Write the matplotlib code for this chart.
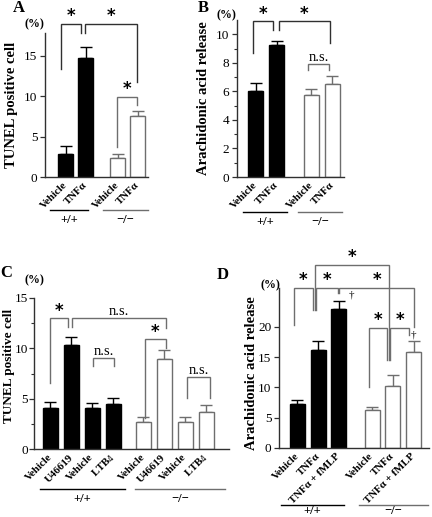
"""Four-panel bar chart: TUNEL positive cells and arachidonic acid release."""

import matplotlib.pyplot as plt
import matplotlib.transforms as mtransforms

W, H = 432, 517
SERIF = ["Liberation Serif", "DejaVu Serif"]
GRAY = "#6e6e6e"
DARK = "#303030"

plt.rcParams["font.family"] = SERIF

# ---- data ----
a_labels = ["Vehicle", "TNFα", "Vehicle", "TNFα"]
a_values = [2.9, 14.7, 2.4, 7.6]
a_errors = [0.9, 1.4, 0.5, 0.5]

b_labels = ["Vehicle", "TNFα", "Vehicle", "TNFα"]
b_values = [6.0, 9.25, 5.75, 6.5]
b_errors = [0.6, 0.3, 0.4, 0.6]

c_labels = ["Vehicle", "U46619", "Vehicle", "LTB$_4$", "Vehicle", "U46619", "Vehicle", "LTB$_4$"]
c_values = [4.1, 10.3, 4.1, 4.5, 2.7, 8.9, 2.7, 3.7]
c_errors = [0.6, 0.8, 0.5, 0.6, 0.5, 0.9, 0.5, 0.7]

d_labels = ["Vehicle", "TNFα", "TNFα + fMLP", "Vehicle", "TNFα", "TNFα + fMLP"]
d_values = [7.3, 16.2, 23.0, 6.3, 10.3, 15.8]
d_errors = [0.7, 1.5, 1.2, 0.4, 1.8, 1.9]

genotypes = ["+/+", "−/−"]


def fig_box(left, top, right, bottom):
    return [left / W, 1 - bottom / H, (right - left) / W, (bottom - top) / H]


def bracket(ax, xl, xr, yl, yr, ytop, text, color=GRAY):
    ax.plot([xl, xl, xr, xr], [yl, ytop, ytop, yr], color=color, lw=1.0,
            clip_on=False, solid_joinstyle="miter")
    xm = (xl + xr) / 2
    if text == "*":
        ax.annotate("*", (xm, ytop), xytext=(0, -1), textcoords="offset points",
                    ha="center", va="bottom", fontsize=12, fontweight="bold",
                    family="DejaVu Sans", annotation_clip=False)
    else:
        ax.annotate(text, (xm, ytop), xytext=(0, 0), textcoords="offset points",
                    ha="center", va="bottom", fontsize=10.5, annotation_clip=False)


def panel(fig, box, x, values, errors, labels, colors, ylim, yticks, xlim,
          ylabel, pct_pos, label_pos, groups, group_off, label_size=10.5, ypad=2):
    ax = fig.add_axes(fig_box(*box))
    for xi, v, e, c in zip(x, values, errors, colors):
        edge = "black" if c == "black" else GRAY
        ax.bar(xi, v, width=0.72, color=c, edgecolor=edge, linewidth=1.0, zorder=2)
        ax.errorbar(xi, v, yerr=[[0], [e]], color=edge, capsize=4, elinewidth=1.0,
                    capthick=1.0, zorder=1)
    ax.set_xlim(*xlim)
    ax.set_ylim(*ylim)
    ax.set_yticks(yticks)
    ax.set_xticks(x)
    ax.set_xticklabels(labels, rotation=45, ha="right", va="center",
                       rotation_mode="anchor", fontsize=7.8, fontweight="bold")
    ax.tick_params(axis="x", length=0, pad=5)
    ax.tick_params(axis="y", labelsize=9.5, length=3.5, width=0.9, color=DARK, pad=ypad)
    for s in ["top", "right"]:
        ax.spines[s].set_visible(False)
    for s in ["left", "bottom"]:
        ax.spines[s].set_color(DARK)
        ax.spines[s].set_linewidth(1.0)
    ax.set_ylabel(ylabel, fontsize=label_size, fontweight="bold")
    ax.yaxis.set_label_coords(*label_pos)
    ax.text(*pct_pos, "(%)", transform=ax.transAxes, ha="center", va="center",
            fontsize=8.5, fontweight="bold")

    blend = mtransforms.blended_transform_factory(ax.transData, ax.transAxes)
    line_tr = mtransforms.offset_copy(blend, fig=fig, y=-group_off[0], units="dots")
    text_tr = mtransforms.offset_copy(blend, fig=fig, y=-group_off[1], units="dots")
    for (x0, x1), name, col in zip(groups, genotypes, ["black", GRAY]):
        ax.plot([x0, x1], [0, 0], color=col, lw=1.0, transform=line_tr, clip_on=False)
        ax.text((x0 + x1) / 2, 0, name, transform=text_tr, ha="center", va="center",
                fontsize=9, fontweight="bold")
    return ax


fig = plt.figure(figsize=(W / 100, H / 100), dpi=100)
fig.patch.set_facecolor("white")

# ---- A ----
ax = panel(fig, (45, 33, 148, 177), [0, 1, 2.6, 3.6], a_values, a_errors, a_labels,
           ["black", "black", "white", "white"], (0, 17.8), [0, 5, 10, 15],
           (-1.025, 4.125), "TUNEL positive cell", (-0.1, 1.06), (-0.26, 0.5),
           [(-0.78, 1.12), (1.875, 4.125)], (33, 43))
bracket(ax, -0.22, 0.78, 13.3, 17.8, 18.9, "*", DARK)
bracket(ax, 0.98, 3.58, 17.8, 11.7, 18.9, "*", DARK)
bracket(ax, 2.58, 3.58, 3.7, 8.9, 9.9, "*")

# ---- B ----
ax = panel(fig, (237, 20, 344, 177), [0, 1, 2.65, 3.65], b_values, b_errors, b_labels,
           ["black", "black", "white", "white"], (0, 11.0), [0, 2, 4, 6, 8, 10],
           (-0.88, 4.2), "Arachidonic acid release", (-0.1, 1.03), (-0.25, 0.5),
           [(-0.6, 1.5), (2.02, 4.12)], (35, 45))
ax.set_yticks([1, 3, 5, 7, 9], minor=True)
ax.tick_params(axis="y", which="minor", length=2, width=0.8, color=DARK)
bracket(ax, -0.1, 0.82, 8.67, 10.3, 10.9, "*", DARK)
bracket(ax, 1.1, 3.55, 10.3, 9.4, 10.9, "*", DARK)
bracket(ax, 2.5, 3.51, 7.5, 7.5, 7.9, "n.s.")

# ---- C ----
ax = panel(fig, (34, 298, 229, 449), [0, 1, 2, 3, 4.45, 5.45, 6.45, 7.45],
           c_values, c_errors, c_labels, ["black"] * 4 + ["white"] * 4,
           (0, 15), [0, 5, 10, 15], (-0.79, 8.55), "TUNEL positive cell",
           (0.0, 1.12), (-0.097, 0.55), [(-0.5, 3.57), (4.05, 8.36)], (40, 50),
           label_size=9.5, ypad=1)
ax.set_yticks([2.5, 7.5, 12.5], minor=True)
ax.tick_params(axis="y", which="minor", length=2, width=0.8, color=DARK)
bracket(ax, -0.02, 0.85, 6.55, 12.1, 13.0, "*")
bracket(ax, 1.02, 5.52, 12.1, 12.0, 13.0, "n.s.")
bracket(ax, 2.05, 3.06, 8.25, 8.25, 9.0, "n.s.")
bracket(ax, 4.53, 5.52, 3.1, 10.0, 10.9, "*")
bracket(ax, 6.53, 7.64, 5.1, 5.1, 7.15, "n.s.")

# ---- D ----
ax = panel(fig, (279, 288, 429, 448), [0, 1, 2, 3.6, 4.6, 5.6], d_values, d_errors,
           d_labels, ["black"] * 3 + ["white"] * 3, (0, 26.4), [0, 5, 10, 15, 20],
           (-0.89, 6.34), "Arachidonic acid release", (-0.06, 1.02), (-0.14, 0.47),
           [(-0.8, 2.24), (2.96, 6.29)], (57, 63))
bracket(ax, 0.86, 4.42, 22.8, 14.5, 30.2, "*")
bracket(ax, -0.15, 0.73, 20.3, 22.8, 26.4, "*")
bracket(ax, 0.89, 1.94, 22.8, 25.6, 26.4, "*")
bracket(ax, 2.01, 5.63, 25.6, 20.0, 26.4, "*")
bracket(ax, 3.43, 4.30, 10.1, 14.5, 19.8, "*")
bracket(ax, 4.46, 5.39, 14.5, 18.7, 19.8, "*")
for i in (2, 5):
    ax.annotate("†", (i, d_values[i] + d_errors[i]), xytext=(9, 1),
                textcoords="offset points", ha="center", va="bottom",
                fontsize=8, annotation_clip=False)

# ---- panel letters ----
for letter, (px, py) in zip("ABCD", [(19, 8), (203, 8), (6, 273), (223, 275)]):
    fig.text(px / W, 1 - py / H, letter, ha="center", va="center",
             fontsize=12, fontweight="bold")

fig.savefig("out.png", dpi=100)
